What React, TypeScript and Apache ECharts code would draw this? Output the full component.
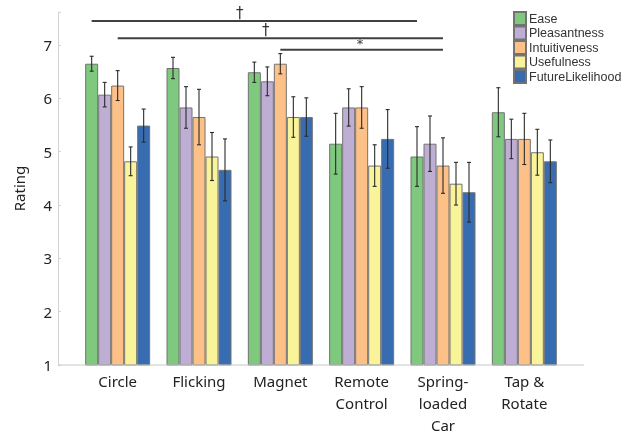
import React, { useEffect, useRef } from "react";
import * as echarts from "echarts";

const categories = ["Circle", "Flicking", "Magnet", "Remote\nControl", "Spring-\nloaded\nCar", "Tap &\nRotate"];
const seriesNames = ["Ease", "Pleasantness", "Intuitiveness", "Usefulness", "FutureLikelihood"];
const colors = ["#7fc97f", "#beaed4", "#fdc086", "#f9f39a", "#386cb0"];

const ease = [6.65, 6.57, 6.49, 5.15, 4.91, 5.74];
const pleasantness = [6.07, 5.83, 6.32, 5.83, 5.15, 5.24];
const intuitiveness = [6.24, 5.65, 6.65, 5.83, 4.74, 5.24];
const usefulness = [4.82, 4.91, 5.65, 4.74, 4.4, 4.99];
const futureLikelihood = [5.49, 4.66, 5.65, 5.24, 4.24, 4.82];

const easeErr = [0.14, 0.2, 0.19, 0.57, 0.56, 0.46];
const pleasantnessErr = [0.23, 0.39, 0.27, 0.35, 0.52, 0.37];
const intuitivenessErr = [0.28, 0.52, 0.19, 0.39, 0.52, 0.48];
const usefulnessErr = [0.27, 0.45, 0.38, 0.39, 0.4, 0.43];
const futureLikelihoodErr = [0.31, 0.58, 0.36, 0.55, 0.56, 0.4];

const yTicks = [1, 2, 3, 4, 5, 6, 7];

// significance brackets: [fromCategory, fromSeries, toCategory, toSeries, yValue, mark]
const sigFromCat = [0, 0, 2];
const sigFromSeries = [0, 2, 2];
const sigToCat = [4, 4, 4];
const sigToSeries = [0, 2, 2];
const sigLevel = [7.45, 7.13, 6.91];
const sigMark = ["†", "†", "*"];

const values = [ease, pleasantness, intuitiveness, usefulness, futureLikelihood];
const errors = [easeErr, pleasantnessErr, intuitivenessErr, usefulnessErr, futureLikelihoodErr];

const BAR_W = 13;
const GRID_LEFT = 77;
const GRID_RIGHT = 71;
const Y_OFFSET = 19;
const FONT = "'Noto Sans', 'Open Sans', sans-serif";

export default function App() {
  const ref = useRef<HTMLDivElement>(null);
  useEffect(() => {
    if (!ref.current) return;
    const chart = echarts.init(ref.current, null, { renderer: "svg" });
    const nS = seriesNames.length;
    const barSeries = seriesNames.map((name, i) => ({
      name,
      type: "bar",
      data: values[i],
      barWidth: BAR_W,
      barGap: "0%",
      itemStyle: { color: colors[i], borderColor: "#737373", borderWidth: 1 },
      emphasis: { disabled: true },
      z: 2,
    }));
    const errSeries = seriesNames.map((name, i) => ({
      type: "custom",
      name: name + "_err",
      data: values[i].map((v, c) => [c, v, errors[i][c]]),
      encode: { x: 0, y: 1 },
      z: 5,
      renderItem: (params: any, api: any) => {
        const c = api.value(0);
        const v = api.value(1);
        const e = api.value(2);
        const top = api.coord([c, v + e]);
        const bot = api.coord([c, v - e]);
        const x = top[0] + (i - (nS - 1) / 2) * BAR_W;
        const st = { stroke: "#2b2b2b", lineWidth: 1.1 };
        return {
          type: "group",
          children: [
            { type: "line", shape: { x1: x, y1: top[1], x2: x, y2: bot[1] }, style: st },
            { type: "line", shape: { x1: x - 2, y1: top[1], x2: x + 2, y2: top[1] }, style: st },
            { type: "line", shape: { x1: x - 2, y1: bot[1], x2: x + 2, y2: bot[1] }, style: st },
          ],
        };
      },
    }));
    const sigSeries = {
      type: "custom",
      name: "sig",
      data: sigLevel.map((lv, k) => [sigFromCat[k], sigFromSeries[k], sigToCat[k], sigToSeries[k], lv]),
      encode: { x: 0, y: 4 },
      z: 6,
      clip: false,
      renderItem: (params: any, api: any) => {
        const k = params.dataIndex;
        const a = api.coord([api.value(0), api.value(4)]);
        const b = api.coord([api.value(2), api.value(4)]);
        const x1 = a[0] + (api.value(1) - (nS - 1) / 2) * BAR_W;
        const x2 = b[0] + (api.value(3) - (nS - 1) / 2) * BAR_W;
        const frac = sigMark[k] === "*" ? 0.49 : 0.455;
        const tx = x1 + (x2 - x1) * frac;
        return {
          type: "group",
          children: [
            { type: "line", shape: { x1, y1: a[1], x2, y2: a[1] }, style: { stroke: "#404040", lineWidth: 2 } },
            {
              type: "text",
              style: {
                text: sigMark[k],
                x: tx,
                y: a[1] - (sigMark[k] === "*" ? 0 : 1),
                align: "center",
                verticalAlign: "bottom",
                fontSize: sigMark[k] === "*" ? 13 : 15,
                fontFamily: "'DejaVu Sans', sans-serif",
                fill: "#333",
              },
            },
          ],
        };
      },
    };
    chart.setOption({
      animation: false,
      grid: { left: GRID_LEFT, right: GRID_RIGHT, top: 12, bottom: 68 },
      legend: {
        data: seriesNames,
        orient: "vertical",
        left: 513,
        top: 11,
        padding: 0,
        itemWidth: 12,
        itemHeight: 13,
        itemGap: -0.5,
        icon: "rect",
        selectedMode: false,
        textStyle: {
          fontSize: 12.5,
          lineHeight: 13,
          color: "#333",
          fontFamily: "'Liberation Sans', Arial, sans-serif",
          padding: [0, 0, 0, -2],
        },
      },
      xAxis: {
        type: "category",
        data: categories,
        axisLine: { show: false },
        axisTick: { show: false },
        axisLabel: { fontSize: 15, color: "#222", fontFamily: FONT, lineHeight: 22, margin: 5, interval: 0 },
      },
      yAxis: {
        type: "value",
        min: 1,
        max: 7.62,
        interval: 1,
        offset: Y_OFFSET,
        name: "Rating",
        nameLocation: "middle",
        nameGap: 32,
        nameTextStyle: { fontSize: 15, color: "#222", fontFamily: FONT },
        axisLine: { show: true, lineStyle: { color: "#d4d4d4" } },
        axisTick: { show: true, inside: true, length: 3, lineStyle: { color: "#d4d4d4" } },
        splitLine: { show: false },
        axisLabel: {
          fontSize: 15,
          color: "#222",
          fontFamily: FONT,
          margin: 6,
          formatter: (v: number) => (yTicks.indexOf(v) >= 0 ? String(v) : ""),
        },
      },
      series: [...barSeries, ...errSeries, sigSeries],
    });
    const yBase = chart.convertToPixel({ yAxisIndex: 0 }, 1) as number;
    const w = chart.getWidth();
    chart.setOption({
      graphic: [
        {
          type: "line",
          shape: { x1: GRID_LEFT - Y_OFFSET, y1: yBase, x2: w - GRID_RIGHT + Y_OFFSET, y2: yBase },
          style: { stroke: "#c8c8c8", lineWidth: 1 },
          z: 10,
        },
      ],
    });
    return () => chart.dispose();
  }, []);
  return <div ref={ref} style={{ position: "fixed", left: 0, top: 0, width: 636, height: 436 }} />;
}
